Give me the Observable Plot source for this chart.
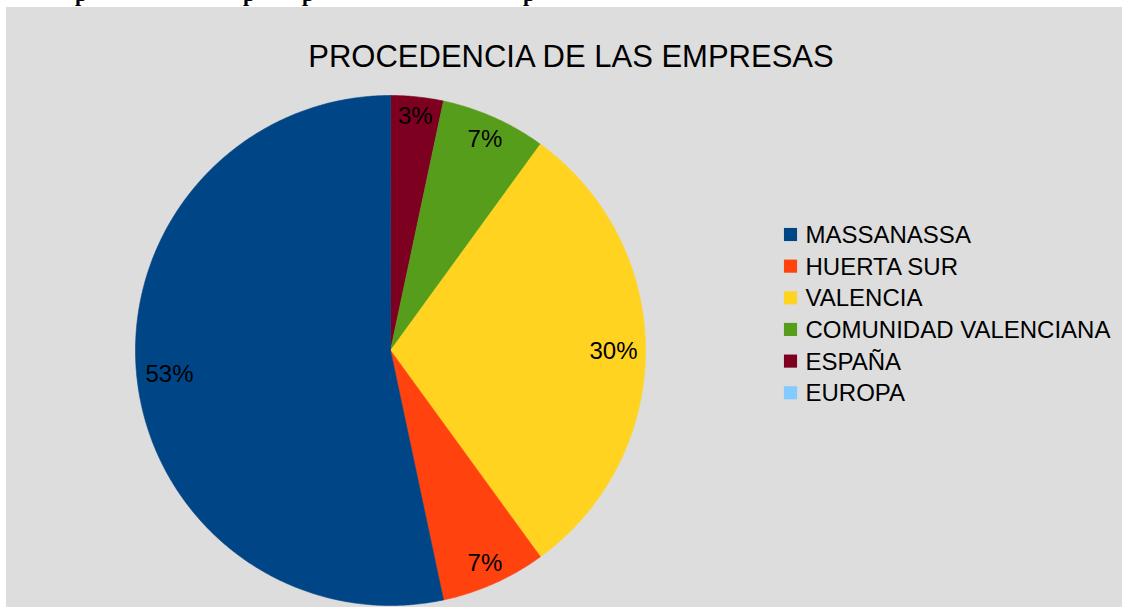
<!DOCTYPE html>
<html>
<head>
<meta charset="utf-8">
<script src="https://cdn.jsdelivr.net/npm/d3@7"></script>
<script src="https://cdn.jsdelivr.net/npm/@observablehq/plot@0.6"></script>
<style>
  html, body { margin: 0; padding: 0; background: #ffffff; width: 1122px; height: 607px; overflow: hidden; }
  #strip { position: absolute; left: 0; top: 0; width: 1122px; height: 7px; overflow: hidden; }
  #strip span { position: absolute; top: -19px; line-height: 22px; font: bold 22px "Liberation Serif", serif; color: #000; }
  #chart { position: absolute; left: 6px; top: 7px; }
</style>
</head>
<body>
<div id="strip"></div>
<div id="chart"></div>
<script>
// ---- data ----
const categories = ["MASSANASSA", "HUERTA SUR", "VALENCIA", "COMUNIDAD VALENCIANA", "ESPAÑA", "EUROPA"];
const counts = [16, 2, 9, 2, 1, 0];
const colors = ["#004586", "#ff420e", "#ffd320", "#579d1c", "#7e0021", "#83caff"];
const title = "PROCEDENCIA DE LAS EMPRESAS";
const stripGlyphs = ["p", "p", "p", "p"];
const stripX = [75, 243, 302, 523];

// clipped heading remnant above the chart
const strip = document.getElementById("strip");
stripGlyphs.forEach((g, i) => {
  const s = document.createElement("span");
  s.textContent = g;
  s.style.left = stripX[i] + "px";
  strip.appendChild(s);
});

// ---- layout ----
const W = 1116, H = 600;
const cx = 384, cy = 343, R = 255, Rin = 247;
const fs = 24;

const data = categories.map((name, i) => ({name, value: counts[i], color: colors[i], index: i}));
const total = d3.sum(counts);

// clockwise from 12 o'clock: reverse of legend order
const arcs = d3.pie().sort(null).value(d => d.value)(data.slice().reverse());

const polys = [];
arcs.forEach(a => {
  if (a.endAngle - a.startAngle <= 0) return;
  polys.push({slice: a.data.name, color: a.data.color, x: cx, y: cy});
  const n = Math.max(2, Math.ceil((a.endAngle - a.startAngle) / (Math.PI / 360)));
  for (let k = 0; k <= n; k++) {
    const t = a.startAngle + (a.endAngle - a.startAngle) * k / n;
    polys.push({slice: a.data.name, color: a.data.color, x: cx + R * Math.sin(t), y: cy - R * Math.cos(t)});
  }
});

const charW = ch => (ch === "%" ? 0.889 : 0.556) * fs;
const labels = arcs.filter(a => a.data.value > 0).map(a => {
  const txt = Math.round(a.data.value / total * 100) + "%";
  const w = [...txt].reduce((s, c) => s + charW(c), 0);
  const mid = (a.startAngle + a.endAngle) / 2;
  const r = Rin - (w / 2 * Math.abs(Math.sin(mid)) + 0.716 * fs / 2 * Math.abs(Math.cos(mid)));
  return {text: txt, x: cx + r * Math.sin(mid), y: cy - r * Math.cos(mid) + 1};
});

const legendX = 784, legendTextX = 799, legendY0 = 227, legendStep = 31.65;

const chart = Plot.plot({
  width: W,
  height: H,
  margin: 0,
  x: {domain: [0, W], range: [0, W], axis: null},
  y: {domain: [0, H], range: [0, H], axis: null},
  color: {type: "identity"},
  style: {background: "#dddddd", fontFamily: "'Liberation Sans', Arial, sans-serif"},
  marks: [
    Plot.line(polys, {x: "x", y: "y", z: "slice", fill: "color", stroke: "color", strokeWidth: 0.6, curve: "linear-closed"}),
    Plot.text(labels, {x: "x", y: "y", text: "text", fontSize: fs, fill: "#000", textAnchor: "middle", lineAnchor: "middle"}),
    Plot.text([title], {x: () => 564.5, y: () => 50, text: d => d, fontSize: 31, fill: "#000", textAnchor: "middle", lineAnchor: "middle"}),
    Plot.dot(data, {x: () => legendX, y: d => legendY0 + d.index * legendStep, symbol: "square", r: 7.4, fill: "color", stroke: null}),
    Plot.text(data, {x: () => legendTextX, y: d => legendY0 + d.index * legendStep + 0.8, text: "name", fontSize: fs, fill: "#000", textAnchor: "start", lineAnchor: "middle"})
  ]
});
document.getElementById("chart").appendChild(chart);
</script>
</body>
</html>
